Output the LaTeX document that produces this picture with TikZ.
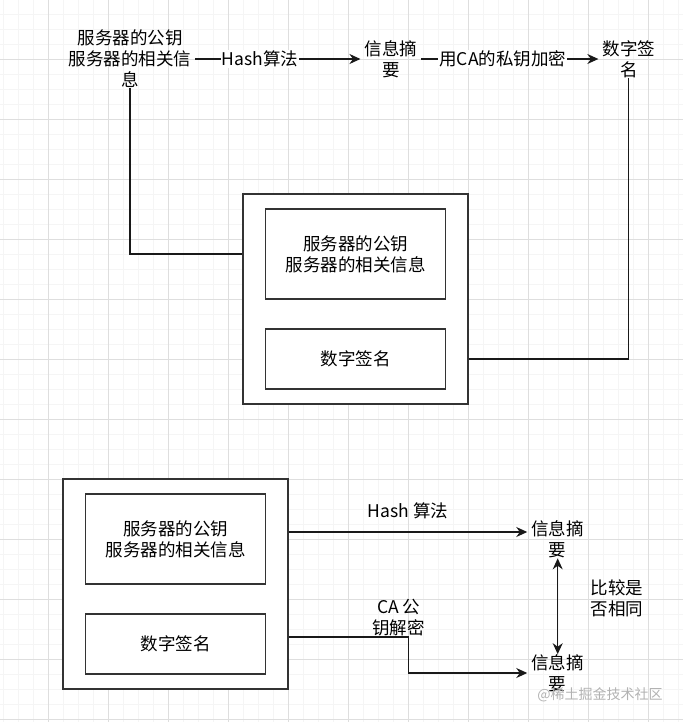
\documentclass[tikz,border=0pt]{standalone}
\usepackage{fontspec}
\setmainfont{Noto Sans CJK SC}
\usetikzlibrary{positioning,arrows.meta}

\begin{document}
\begin{tikzpicture}[x=1pt,y=-1pt,>={Stealth[length=11pt,width=10pt]},
  txt/.style={font=\fontsize{17.5}{21}\selectfont,align=center,inner xsep=4pt,inner ysep=0pt},
  box/.style={draw=black!80,line width=1.3pt,fill=white,txt,minimum width=180pt},
  frame/.style={draw=black!80,line width=1.3pt,fill=white,minimum width=225pt,minimum height=210pt},
  conn/.style={line width=1.3pt,draw=black!90},
  minor/.style={draw=black!4,line width=0.6pt},
  major/.style={draw=black!13,line width=0.8pt}]
\useasboundingbox (0,0) rectangle (683,722);
% grid
\foreach \x in {3,18,...,678} \draw[minor] (\x,0) -- (\x,722);
\foreach \y in {14,29,...,719} \draw[minor] (0,\y) -- (683,\y);
\foreach \x in {48,108,...,648} \draw[major] (\x,0) -- (\x,722);
\foreach \y in {59,119,...,719} \draw[major] (0,\y) -- (683,\y);

% signing
\node[txt] (src) at (130,59) {服务器的公钥\\服务器的相关信\\息};
\node[txt,right=165pt of src] (dg) {信息摘\\要};
\node[txt,right=177pt of dg] (dsig) {数字签\\名};
\draw[conn,->] (src) -- (dg) node[pos=0.39,fill=white,txt,inner sep=1pt]{Hash算法};
\draw[conn,->] (dg) -- (dsig) node[pos=0.46,fill=white,txt,inner sep=1pt]{用CA的私钥加密};

\node[frame] (certT) at (355.5,299) {};
\node[box,minimum height=90pt] (infoT) at (355.5,254) {服务器的公钥\\服务器的相关信息};
\node[box,minimum height=60pt] (sigT) at (355.5,359) {数字签名};
\draw[conn] (src) |- (infoT -| certT.west);
\draw[conn] (dsig) |- (sigT -| certT.east);

% checking
\node[frame] (certB) at (175.5,584) {};
\node[box,minimum height=90pt] (infoB) at (175.5,539) {服务器的公钥\\服务器的相关信息};
\node[box,minimum height=60pt] (sigB) at (175.5,644) {数字签名};
\node[txt] (dgA) at (557.7,539.5) {信息摘\\要};
\node[txt] (dgB) at (557.7,673) {信息摘\\要};
\coordinate (hA) at ([yshift=52pt]certB.east);
\coordinate (hB) at ([yshift=-53pt]certB.east);
\draw[conn,->] (hA) -- (hA -| dgA.west) node[midway,above=12pt,txt]{Hash 算法};
\draw[conn,->] (hB) -- ++(120,0) coordinate (kink) |- (dgB.west);
\node[txt,anchor=south,inner sep=0pt] (dec) at ([xshift=-10pt,yshift=1pt]kink) {CA 公\\钥解密};
\draw[conn,<->] (dgA) -- (dgB);
\node[txt] (cmp) at (617,598.5) {比较是\\否相同};
\node[font=\fontsize{14}{16}\selectfont,text=black!30] (wm) at (600,695) {@稀土掘金技术社区};
\end{tikzpicture}
\end{document}
